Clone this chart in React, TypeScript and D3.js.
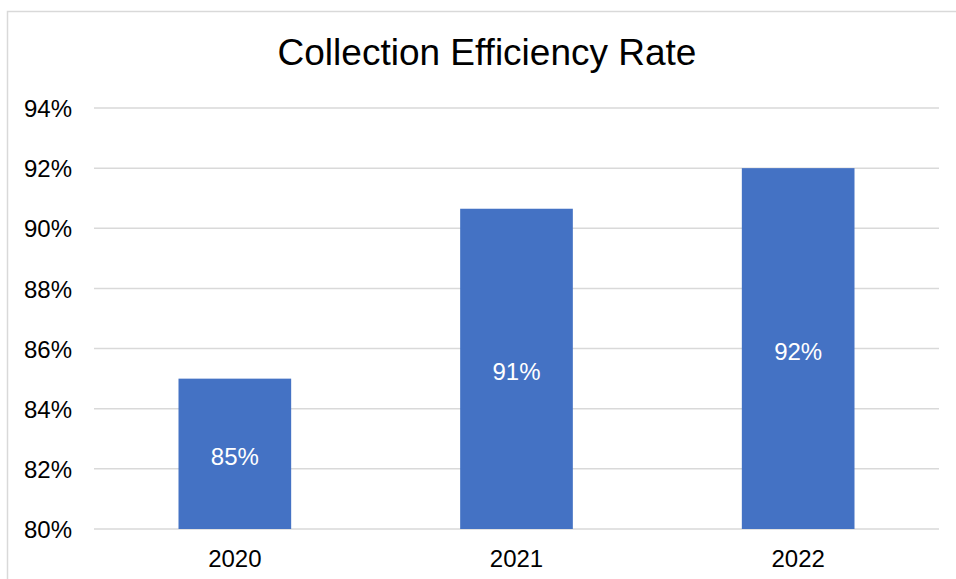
import * as d3 from 'd3'

const years = ['2020', '2021', '2022']
const rates = [85, 90.65, 92]
const rateLabels = ['85%', '91%', '92%']
const yTicks = [80, 82, 84, 86, 88, 90, 92, 94]

const W = 956
const H = 579
const margin = { top: 108, right: 17, bottom: 50, left: 94 }

const App = () => {
  const xScale = d3.scaleBand()
    .domain(years)
    .range([margin.left, W - margin.right])
    .paddingInner(0.6)
    .paddingOuter(0.3)

  const yScale = d3.scaleLinear()
    .domain([80, 94])
    .range([H - margin.bottom, margin.top])

  const font = '"Liberation Sans", Arial, sans-serif'

  return (
    <svg width={W} height={H} style={{ position: 'absolute', left: 0, top: 0, background: '#fff' }} fontFamily={font}>
      <rect x={7.5} y={11.5} width={W + 20} height={H + 20} fill="#fff" stroke="#d9d9d9" strokeWidth={1.5} />
      <text x={487} y={65} textAnchor="middle" fontSize={37} fill="#000">Collection Efficiency Rate</text>
      {yTicks.map(t => (
        <g key={t}>
          <line x1={margin.left} x2={W - margin.right} y1={yScale(t)} y2={yScale(t)} stroke="#d9d9d9" strokeWidth={1.5} />
          <text x={72} y={yScale(t)} dy="0.38em" textAnchor="end" fontSize={24} fill="#000">{t}%</text>
        </g>
      ))}
      {rates.map((v, i) => {
        const x = xScale(years[i])!
        const y = yScale(v)
        const h = yScale(80) - y
        return (
          <g key={years[i]}>
            <rect x={x} y={y} width={xScale.bandwidth()} height={h} fill="#4472c4" />
            <text x={x + xScale.bandwidth() / 2} y={y + h / 2 + 2} dy="0.38em" textAnchor="middle" fontSize={24} fill="#fff">{rateLabels[i]}</text>
          </g>
        )
      })}
      {years.map(yr => (
        <text key={yr} x={xScale(yr)! + xScale.bandwidth() / 2} y={558} dy="0.38em" textAnchor="middle" fontSize={24} fill="#000">{yr}</text>
      ))}
    </svg>
  )
}

export default App
